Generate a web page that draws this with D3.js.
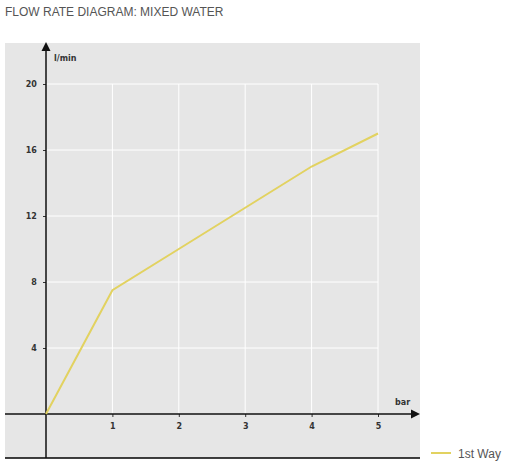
<!DOCTYPE html>
<html>
<head>
<meta charset="utf-8">
<script src="https://d3js.org/d3.v7.min.js"></script>
<style>
  html, body { margin: 0; padding: 0; background: #fff; }
</style>
</head>
<body>
<svg id="chart" width="508" height="464" font-family="DejaVu Sans, sans-serif"></svg>
<script>
const pressure = [0, 1, 2, 3, 4, 5];
const flow = [0, 7.5, 10, 12.5, 15, 17];
const xTicks = [1, 2, 3, 4, 5];
const yTicks = [4, 8, 12, 16, 20];

const svg = d3.select('#chart');

svg.append('text').attr('x', 5).attr('y', 16)
    .style('font-family', 'Liberation Sans, sans-serif').attr('font-size', 12)
    .attr('fill', '#555').text('FLOW RATE DIAGRAM: MIXED WATER');

svg.append('rect').attr('x', 5).attr('y', 43).attr('width', 415).attr('height', 415)
    .attr('fill', '#e6e6e6');
svg.append('line').attr('x1', 5).attr('x2', 420).attr('y1', 458).attr('y2', 458)
    .attr('stroke', '#000').attr('stroke-width', 1.5);

const x = d3.scaleLinear().domain([0, 5]).range([46, 378]);
const y = d3.scaleLinear().domain([0, 20]).range([414, 84]);

// grid
svg.selectAll('line.vg').data(xTicks).join('line').attr('class', 'vg')
    .attr('x1', d => x(d)).attr('x2', d => x(d)).attr('y1', y(20)).attr('y2', y(0))
    .attr('stroke', '#fff').attr('stroke-width', 1);
svg.selectAll('line.hg').data(yTicks).join('line').attr('class', 'hg')
    .attr('x1', x(0)).attr('x2', x(5)).attr('y1', d => y(d)).attr('y2', d => y(d))
    .attr('stroke', '#fff').attr('stroke-width', 1);

// axes
const xAxis = svg.append('g').attr('transform', `translate(0,${y(0)})`)
    .call(d3.axisBottom(x).tickValues(xTicks).tickSize(3).tickFormat(d3.format('d')));
const yAxis = svg.append('g').attr('transform', `translate(${x(0)},0)`)
    .call(d3.axisLeft(y).tickValues(yTicks).tickSize(3).tickFormat(d3.format('d')));
[xAxis, yAxis].forEach(a => {
  a.attr('font-family', 'DejaVu Sans, sans-serif');
  a.select('.domain').remove();
  a.selectAll('text').attr('font-size', 8).attr('font-weight', 'bold').attr('fill', '#333');
  a.selectAll('.tick line').attr('stroke', '#333');
});
xAxis.selectAll('text').attr('dy', '1.1em');
yAxis.selectAll('text').attr('dx', '-0.4em');

svg.append('line').attr('x1', 5).attr('x2', 412).attr('y1', y(0)).attr('y2', y(0))
    .attr('stroke', '#111').attr('stroke-width', 1.5);
svg.append('path').attr('d', 'M420,414 L411,409.5 L411,418.5 Z').attr('fill', '#111');
svg.append('line').attr('x1', x(0)).attr('x2', x(0)).attr('y1', 50).attr('y2', 458)
    .attr('stroke', '#111').attr('stroke-width', 1.5);
svg.append('path').attr('d', 'M46,42 L41.5,51 L50.5,51 Z').attr('fill', '#111');

svg.append('text').attr('x', 54).attr('y', 61).attr('font-size', 8).attr('font-weight', 'bold')
    .attr('fill', '#333').text('l/min');
svg.append('text').attr('x', 395).attr('y', 405).attr('font-size', 8).attr('font-weight', 'bold')
    .attr('fill', '#333').text('bar');

// series
const line = d3.line().x((d, i) => x(pressure[i])).y(d => y(d));
svg.append('path').datum(flow).attr('d', line).attr('fill', 'none')
    .attr('stroke', '#e2d260').attr('stroke-width', 2);

// legend
svg.append('line').attr('x1', 431).attr('x2', 451).attr('y1', 453).attr('y2', 453)
    .attr('stroke', '#e2d260').attr('stroke-width', 2);
svg.append('text').attr('x', 458).attr('y', 458).style('font-family', 'Liberation Sans, sans-serif')
    .attr('font-size', 12).attr('fill', '#555').text('1st Way');
</script>
</body>
</html>
